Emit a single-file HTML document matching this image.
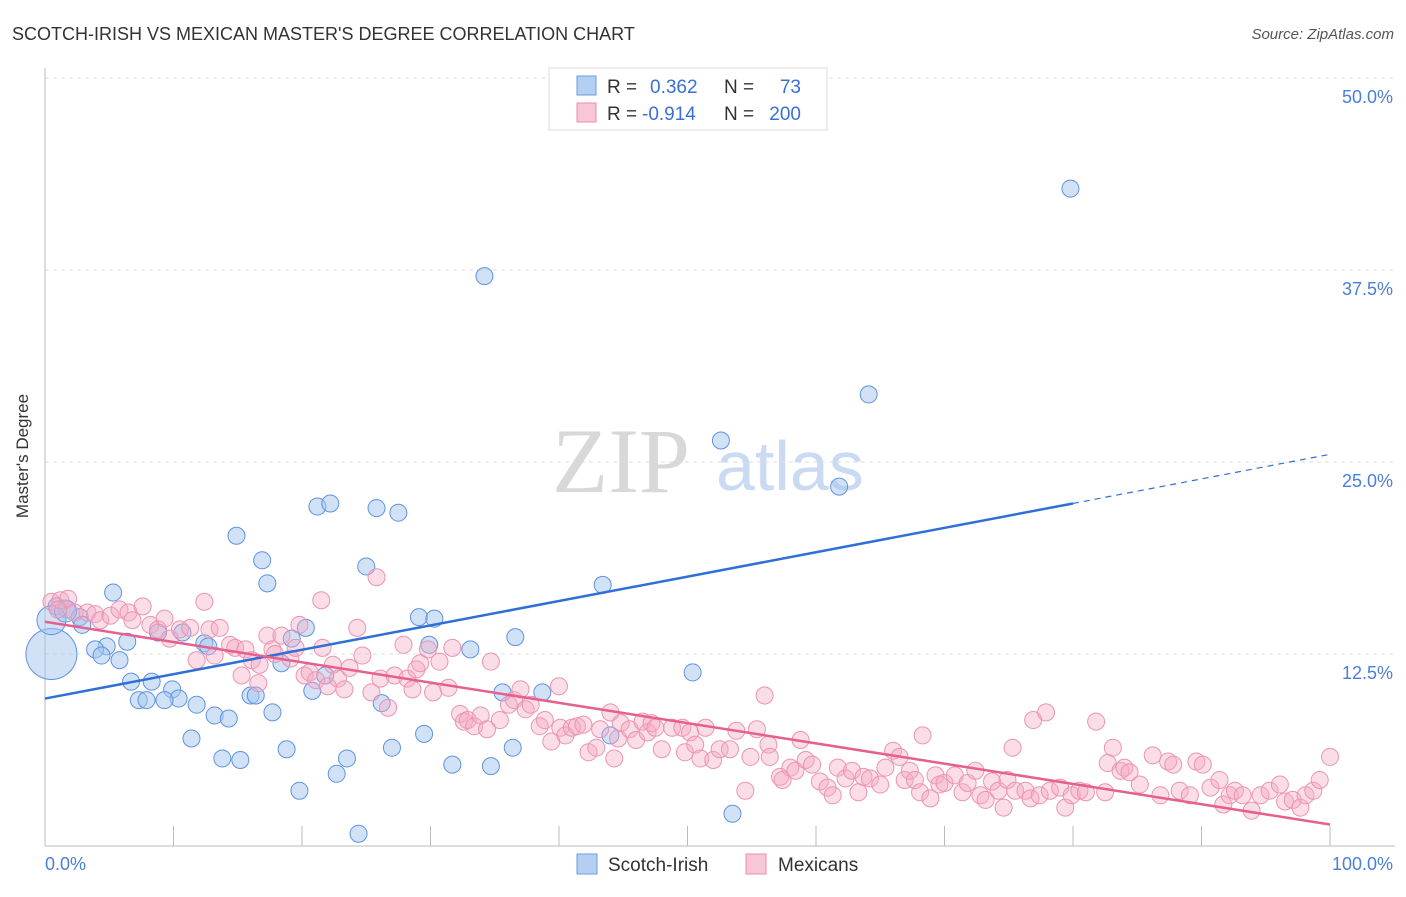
<!DOCTYPE html>
<html><head><meta charset="utf-8">
<style>
body{margin:0;background:#fff;font-family:"Liberation Sans",sans-serif;}
svg text{font-family:"Liberation Sans",sans-serif;}
</style></head>
<body>
<svg id="chart" width="1406" height="892" viewBox="0 0 1406 892" xmlns="http://www.w3.org/2000/svg">
<text x="12" y="40" font-size="18" fill="#333">SCOTCH-IRISH VS MEXICAN MASTER'S DEGREE CORRELATION CHART</text>
<text x="1394" y="39" font-size="15" fill="#555" font-style="italic" text-anchor="end">Source: ZipAtlas.com</text>
<g>
<text x="552" y="492" font-size="92" fill="#d8d8d8" style="font-family:'Liberation Serif',serif">ZIP</text>
<text x="716" y="490" font-size="70" fill="#c9daf2">atlas</text>
</g>
<g id="grid"></g>
<g id="axes"></g>
<g id="blue"></g>
<g id="pink"></g>
<g id="lines"></g>
<text x="28" y="456" font-size="17" fill="#333" text-anchor="middle" transform="rotate(-90 28 456)">Master's Degree</text>
<g>
<rect x="549" y="68" width="278" height="62" fill="#fff" stroke="#ddd"/>
<rect x="577" y="76" width="19" height="19" fill="#b5cff2" stroke="#6b9be0"/>
<rect x="577" y="103" width="19" height="19" fill="#f9c6d5" stroke="#ea8fae"/>
<text x="607" y="93" font-size="19" fill="#333">R =</text><text x="650" y="93" font-size="19" fill="#3a6fd8">0.362</text>
<text x="724" y="93" font-size="19" fill="#333">N =</text><text x="801" y="93" font-size="19" fill="#3a6fd8" text-anchor="end">73</text>
<text x="607" y="120" font-size="19" fill="#333">R =</text><text x="642" y="120" font-size="19" fill="#3a6fd8">-0.914</text>
<text x="724" y="120" font-size="19" fill="#333">N =</text><text x="801" y="120" font-size="19" fill="#3a6fd8" text-anchor="end">200</text>
</g>
<g>
<rect x="577" y="854" width="20" height="20" fill="#b5cff2" stroke="#6b9be0"/>
<text x="608" y="871" font-size="19" fill="#333">Scotch-Irish</text>
<rect x="746" y="854" width="20" height="20" fill="#f9c6d5" stroke="#ea8fae"/>
<text x="778" y="871" font-size="19" fill="#333">Mexicans</text>
</g>
</svg>
<script>
const yTicks=[12.5,25,37.5,50];
const yTickLabels=["12.5%","25.0%","37.5%","50.0%"];
const xTickVals=[10,20,30,40,50,60,70,80,90];
const xEndLabels=["0.0%","100.0%"];
const blueX=[79.8,34.2,64.1,52.6,61.8,21.2,22.2,25.8,27.5,14.9,16.9,25.0,17.3,5.3,43.4,0.9,1.7,2.7,2.9,6.4,8.8,4.8,3.9,4.4,5.8,10.7,12.4,12.7,19.2,20.3,18.4,29.1,30.3,29.9,33.1,36.6,21.8,20.8,6.7,8.3,9.9,10.4,7.3,7.9,9.3,11.8,13.2,14.3,16.0,16.4,17.7,26.2,35.6,38.7,50.4,11.4,18.8,23.5,27.0,29.5,36.4,13.8,15.2,31.7,34.7,22.7,19.8,24.4,44.0,53.5,0.5,0.5,1.6];
const blueY=[42.8,37.1,29.4,26.4,23.4,22.1,22.3,22.0,21.7,20.2,18.6,18.2,17.1,16.5,17.0,15.6,15.4,14.9,14.4,13.3,13.9,13.0,12.8,12.4,12.1,13.9,13.2,13.0,13.5,14.2,11.9,14.9,14.8,13.1,12.8,13.6,11.1,10.1,10.7,10.7,10.2,9.6,9.5,9.5,9.5,9.2,8.5,8.3,9.8,9.8,8.7,9.3,10.0,10.0,11.3,7.0,6.3,5.7,6.4,7.3,6.4,5.7,5.6,5.3,5.2,4.7,3.6,0.8,7.2,2.1,12.5,14.7,15.3];
const blueSize=[1,1,1,1,1,1,1,1,1,1,1,1,1,1,1,1,1,1,1,1,1,1,1,1,1,1,1,1,1,1,1,1,1,1,1,1,1,1,1,1,1,1,1,1,1,1,1,1,1,1,1,1,1,1,1,1,1,1,1,1,1,1,1,1,1,1,1,1,1,1,3,1.7,1.3];
const pinkX=[0.5,1.2,1.8,1.0,2.3,3.3,3.9,4.3,5.1,5.8,6.5,6.8,7.6,8.2,8.8,9.3,9.7,10.5,11.3,11.8,12.4,12.8,13.2,13.6,14.4,14.8,15.3,15.6,16.1,16.6,16.7,17.3,17.7,17.9,18.4,19.1,19.5,19.8,20.2,20.6,21.1,21.5,21.6,22.0,22.4,22.8,23.3,23.7,24.3,24.7,25.4,25.8,26.1,26.7,27.2,27.9,28.2,28.6,28.9,29.2,29.8,30.2,30.7,31.4,31.7,32.3,32.6,32.9,33.4,33.9,34.4,34.7,35.4,36.1,36.5,37.0,37.4,37.8,38.5,38.9,39.4,40.0,40.1,40.5,41.0,41.4,41.9,42.3,42.9,43.2,44.0,44.3,44.6,44.8,45.5,46.0,46.5,46.9,47.2,47.5,48.0,48.8,49.6,49.8,50.2,50.6,51.0,51.4,52.0,52.5,53.3,53.8,54.5,54.9,55.4,56.0,56.3,56.4,57.2,57.4,58.0,58.4,58.8,59.2,59.7,60.3,60.9,61.3,61.7,62.3,62.8,63.3,63.7,64.2,65.0,65.4,66.0,66.5,66.9,67.3,67.7,68.1,68.3,68.9,69.3,69.6,70.0,70.8,71.4,71.8,72.4,72.8,73.2,73.7,74.2,74.6,74.9,75.3,75.5,76.3,76.7,76.9,77.4,77.9,78.2,79.0,79.4,79.9,80.5,81.0,81.8,82.5,82.7,83.1,83.7,84.0,84.4,85.2,86.2,86.8,87.4,87.8,88.3,89.1,89.6,90.1,90.7,91.4,91.7,92.2,92.6,93.2,93.9,94.6,95.3,96.1,96.5,97.1,97.7,98.1,98.7,99.2,100];
const pinkY=[15.9,16.0,16.1,15.4,15.2,15.2,15.1,14.7,15.0,15.4,15.2,14.7,15.6,14.4,14.1,14.8,13.5,14.1,14.2,12.1,15.9,14.1,12.4,14.2,13.1,12.9,11.1,12.8,12.1,10.6,11.8,13.7,12.8,12.5,13.7,12.2,12.9,14.4,11.1,11.3,10.8,16.0,12.9,10.4,11.8,10.9,10.2,11.6,14.2,12.4,10.0,17.5,10.9,9.0,11.1,13.1,10.9,10.2,11.5,11.9,12.8,10.0,12.0,10.3,12.9,8.6,8.1,8.2,7.8,8.5,7.6,12.0,8.2,9.2,9.5,10.2,8.9,9.2,7.8,8.2,6.8,10.4,7.7,7.2,7.7,7.8,7.9,6.1,6.4,7.6,8.7,5.7,7.0,8.0,7.6,6.9,8.1,7.4,8.0,7.7,6.3,7.7,7.7,6.1,7.4,6.6,5.7,7.7,5.6,6.3,6.3,7.5,3.6,5.8,7.6,9.8,6.6,5.8,4.5,4.3,5.1,4.9,6.9,5.6,5.3,4.2,3.8,3.3,5.1,4.4,4.9,3.5,4.5,4.4,4.0,5.1,6.2,5.8,4.3,4.9,4.3,3.5,7.2,3.1,4.6,4.0,4.1,4.6,3.5,4.1,4.9,3.3,3.0,4.2,3.6,2.5,4.3,6.4,3.6,3.6,3.1,8.2,3.3,8.7,3.6,3.8,2.5,3.3,3.6,3.5,8.1,3.5,5.4,6.4,4.9,5.1,4.8,4.0,5.9,3.3,5.5,5.3,3.6,3.3,5.5,5.3,3.8,4.3,2.7,3.3,3.6,3.3,2.3,3.3,3.6,4.0,2.9,3.0,2.5,3.3,3.6,4.3,5.8];
const blueTrendX=[0,80,100];
const blueTrendY=[9.6,22.3,25.5];
const pinkTrendX=[0,100];
const pinkTrendY=[14.6,1.4];

const X0=45,X1=1330,Y0=846,PXPER=192/12.5;
function sx(v){return X0+(X1-X0)*v/100;}
function sy(v){return Y0-v*PXPER;}
const NS="http://www.w3.org/2000/svg";
function mk(tag,parent,attrs){const e=document.createElementNS(NS,tag);for(const k in attrs)e.setAttribute(k,attrs[k]);parent.appendChild(e);return e;}
const grid=document.getElementById('grid'),axes=document.getElementById('axes');
yTicks.forEach((t,i)=>{
  const l=mk('line',grid,{x1:X0,x2:1395,y1:sy(t),y2:sy(t),stroke:'#ddd','stroke-dasharray':'4,4'});
  
  
  const tx=mk('text',axes,{x:1393,y:sy(t)+25,'font-size':18,fill:'#4a7fd8','text-anchor':'end'});
  tx.textContent=yTickLabels[i];
  
  
});
mk('line',axes,{x1:X0,x2:X0,y1:68,y2:Y0,stroke:'#bbb'});
mk('line',axes,{x1:X0,x2:1395,y1:Y0,y2:Y0,stroke:'#bbb'});
xTickVals.concat([100]).forEach(t=>{
  const l=mk('line',axes,{x1:sx(t),x2:sx(t),y1:826,y2:Y0,stroke:'#bbb'});
  
  
});
const xl0=mk('text',axes,{x:45,y:870,'font-size':18,fill:'#4a7fd8'});xl0.textContent=xEndLabels[0];


const xl1=mk('text',axes,{x:1393,y:870,'font-size':18,fill:'#4a7fd8','text-anchor':'end'});xl1.textContent=xEndLabels[1];



const pg=document.getElementById('pink');
pinkX.forEach((v,i)=>{
  const c=mk('circle',pg,{cx:sx(v),cy:sy(pinkY[i]),r:8.5,fill:'rgba(246,170,195,0.4)',stroke:'#eb94b2','stroke-width':1});
  
  
});
const bg=document.getElementById('blue');
blueX.forEach((v,i)=>{
  const c=mk('circle',bg,{cx:sx(v),cy:sy(blueY[i]),r:8.5*blueSize[i],fill:'rgba(164,198,240,0.5)',stroke:'#5f93e0','stroke-width':1});
  
  
});
const lg=document.getElementById('lines');
const b1=mk('line',lg,{x1:sx(blueTrendX[0]),y1:sy(blueTrendY[0]),x2:sx(blueTrendX[1]),y2:sy(blueTrendY[1]),stroke:'#2f6fd6','stroke-width':2.5});


const b2=mk('line',lg,{x1:sx(blueTrendX[1]),y1:sy(blueTrendY[1]),x2:sx(blueTrendX[2]),y2:sy(blueTrendY[2]),stroke:'#2f6fd6','stroke-width':1.2,'stroke-dasharray':'6,5'});


const p1=mk('line',lg,{x1:sx(pinkTrendX[0]),y1:sy(pinkTrendY[0]),x2:sx(pinkTrendX[1]),y2:sy(pinkTrendY[1]),stroke:'#e5608c','stroke-width':2.5});


</script>
</body></html>
